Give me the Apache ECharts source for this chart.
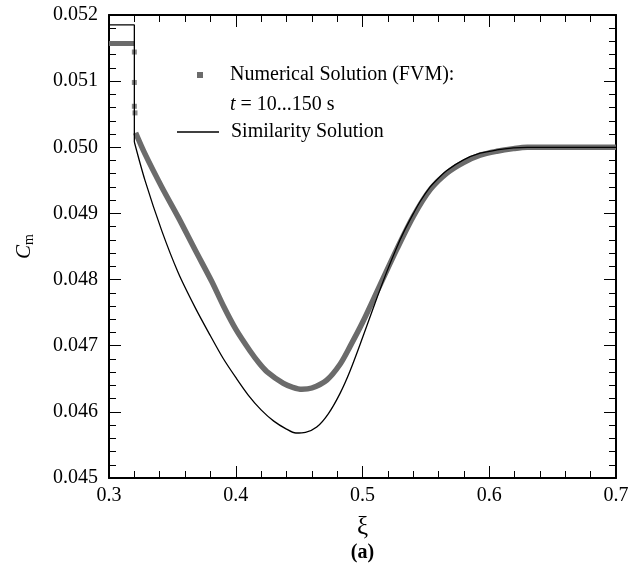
<!DOCTYPE html>
<html><head><meta charset="utf-8">
<script src="https://cdn.jsdelivr.net/npm/echarts@6/dist/echarts.min.js"></script>
<style>html,body{margin:0;padding:0;background:#fff}#c{width:632px;height:574px}</style>
</head><body><div id="c"></div>
<script>
// ---- data ----
const numName = 'Numerical Solution (FVM):';
const simName = 'Similarity Solution';

// numerical solution: plateau left of the front
const numFlatXi = [0.300, 0.320];
const numFlatC  = [0.05157, 0.05157];
// isolated points in the jump at the front
const numJumpXi = [0.3200, 0.3200, 0.3200, 0.3205];
const numJumpC  = [0.05144, 0.05098, 0.05062, 0.05052];
// numerical solution: main curve
const numXi = [0.3210, 0.3284, 0.3416, 0.3547, 0.3679, 0.3811, 0.3903, 0.4000, 0.4113,
               0.4187, 0.4245, 0.4376, 0.4450, 0.4521, 0.4600, 0.4718, 0.4823, 0.4902, 0.5000,
               0.5139, 0.5271, 0.5402, 0.5534, 0.5666, 0.5797, 0.5928, 0.6060, 0.6191, 0.6300, 0.7000];
const numC  = [0.05022, 0.04990, 0.04940, 0.04894, 0.04845, 0.04797, 0.04760, 0.04725, 0.04692,
               0.04673, 0.04661, 0.04643, 0.04637, 0.04634, 0.04636, 0.04648, 0.04672, 0.04699, 0.04735,
               0.04792, 0.04846, 0.04896, 0.04936, 0.04961, 0.04977, 0.04988, 0.04994, 0.04998, 0.05000, 0.05000];

// similarity solution: plateau + jump
const simStepXi = [0.300, 0.320, 0.320];
const simStepC  = [0.05185, 0.05185, 0.05008];
// similarity solution: main curve
const simXi = [0.3200, 0.3284, 0.3416, 0.3547, 0.3679, 0.3800, 0.3900, 0.4000, 0.4100, 0.4200,
               0.4300, 0.4400, 0.4474, 0.4550, 0.4639, 0.4730, 0.4823, 0.4900, 0.5000, 0.5100,
               0.5192, 0.5271, 0.5323, 0.5402, 0.5455, 0.5534, 0.5587, 0.5666, 0.5797, 0.5928,
               0.6060, 0.6191, 0.6300, 0.7000];
const simC  = [0.05008, 0.04950, 0.04874, 0.04810, 0.04758, 0.04715, 0.04681, 0.04652, 0.04625, 0.04603,
               0.04586, 0.04574, 0.04568, 0.04569, 0.04577, 0.04597, 0.04628, 0.04661, 0.04712, 0.04765,
               0.04812, 0.04849, 0.04871, 0.04900, 0.04918, 0.04940, 0.04951, 0.04965, 0.04981, 0.04991,
               0.04996, 0.04999, 0.05000, 0.05000];

// axes
const xMin = 0.3, xMax = 0.7, xStep = 0.1;
const yMin = 0.045, yMax = 0.052, yStep = 0.001;
const xTickLabels = ['0.3', '0.4', '0.5', '0.6', '0.7'];
const yTickLabels = ['0.045', '0.046', '0.047', '0.048', '0.049', '0.050', '0.051', '0.052'];

// ---- chart ----
const FONT = 'Liberation Serif';
const GRAY = '#6b6b6b';
const zip = (a, b) => a.map((v, i) => [v, b[i]]);
const xLab = v => { const i = Math.round((v - xMin) / xStep); return '{t|' + (xTickLabels[i] ?? '') + '}'; };
const yLab = v => { const i = Math.round((v - yMin) / yStep); return '{t|' + (yTickLabels[i] ?? '') + '}'; };
const tickRich = { t: { fontFamily: FONT, fontSize: 20, color: '#000' } };

function axisCommon(extra) {
  return Object.assign({
    type: 'value',
    axisLine: { show: true, onZero: false, lineStyle: { color: '#000', width: 2 } },
    axisTick: { show: true, inside: true, length: 12, lineStyle: { color: '#000', width: 1 } },
    minorTick: { show: true, splitNumber: 5, length: 7, lineStyle: { color: '#000', width: 1 } },
    splitLine: { show: false },
    minorSplitLine: { show: false }
  }, extra);
}

const chart = echarts.init(document.getElementById('c'), null, { renderer: 'canvas' });
chart.setOption({
  animation: false,
  backgroundColor: '#fff',
  grid: { left: 109, right: 16, top: 15, bottom: 96, containLabel: false },
  xAxis: [
    axisCommon({
      min: xMin, max: xMax, interval: xStep, position: 'bottom',
      axisLabel: { show: true, formatter: xLab, margin: 8, fontFamily: FONT, fontSize: 20, color: '#000', rich: tickRich },
      name: '{x|ξ}\n{a|(a)}', nameLocation: 'middle', nameGap: 35,
      nameTextStyle: {
        rich: {
          x: { fontFamily: FONT, fontSize: 25, color: '#000', lineHeight: 28 },
          a: { fontFamily: FONT, fontSize: 20, fontWeight: 'bold', color: '#000', lineHeight: 24 }
        }
      }
    }),
    axisCommon({
      min: xMin, max: xMax, interval: xStep, position: 'top',
      axisLabel: { show: false }
    })
  ],
  yAxis: [
    axisCommon({
      min: yMin, max: yMax, interval: yStep, position: 'left',
      axisLabel: { show: true, formatter: yLab, margin: 11, fontFamily: FONT, fontSize: 20, color: '#000', rich: tickRich },
      name: '{c|C}{m|m}', nameLocation: 'middle', nameRotate: 90, nameGap: 73,
      nameTextStyle: {
        rich: {
          c: { fontFamily: FONT, fontSize: 21, fontStyle: 'italic', color: '#000', lineHeight: 24 },
          m: { fontFamily: FONT, fontSize: 14, color: '#000', lineHeight: 14, verticalAlign: 'bottom' }
        }
      }
    }),
    axisCommon({
      min: yMin, max: yMax, interval: yStep, position: 'right',
      axisLabel: { show: false }
    })
  ],
  legend: [
    {
      data: [{ name: numName, icon: 'rect' }],
      left: 197, top: 65, padding: 0, orient: 'vertical',
      itemWidth: 6, itemHeight: 6,
      selectedMode: false,
      itemStyle: { borderWidth: 0 },
      formatter: () => '{n|Numerical Solution (FVM):}\n{i|t}{n| = 10...150 s}',
      textStyle: {
        padding: [30, 0, 0, 22],
        rich: {
          n: { fontFamily: FONT, fontSize: 20, color: '#000', lineHeight: 30 },
          i: { fontFamily: FONT, fontSize: 20, fontStyle: 'italic', color: '#000', lineHeight: 30 }
        }
      }
    },
    {
      data: [{ name: simName, icon: 'rect' }],
      left: 177, top: 122, padding: 0,
      itemWidth: 42, itemHeight: 1.4,
      selectedMode: false,
      itemStyle: { borderWidth: 0 },
      formatter: '{n|{name}}',
      textStyle: {
        padding: [0, 0, 0, 7],
        rich: { n: { fontFamily: FONT, fontSize: 20, color: '#000', lineHeight: 30 } }
      }
    }
  ],
  series: [
    {
      name: numName, type: 'line', data: zip(numFlatXi, numFlatC),
      showSymbol: false, symbol: 'none', color: GRAY,
      lineStyle: { color: GRAY, width: 5 }, clip: true, z: 2
    },
    {
      name: numName, type: 'scatter', data: zip(numJumpXi, numJumpC),
      symbol: 'rect', symbolSize: 5, color: GRAY, itemStyle: { color: GRAY }, z: 2
    },
    {
      name: numName, type: 'line', data: zip(numXi, numC),
      showSymbol: false, symbol: 'none', color: GRAY, smooth: 0.3,
      lineStyle: { color: GRAY, width: 5.5 }, clip: true, z: 2
    },
    {
      name: simName, type: 'line', data: zip(simStepXi, simStepC),
      showSymbol: false, symbol: 'none', color: '#000',
      lineStyle: { color: '#000', width: 1.3 }, clip: true, z: 3
    },
    {
      name: simName, type: 'line', data: zip(simXi, simC),
      showSymbol: false, symbol: 'none', color: '#000', smooth: 0.3,
      lineStyle: { color: '#000', width: 1.3 }, clip: true, z: 3
    }
  ]
});
</script>
</body></html>
